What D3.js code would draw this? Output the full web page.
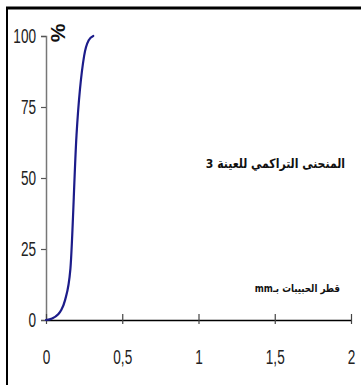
<!DOCTYPE html>
<html>
<head>
<meta charset="utf-8">
<script src="https://cdn.jsdelivr.net/npm/d3@7"></script>
<style>
  html, body { margin: 0; padding: 0; background: #fff; }
  svg { display: block; }
  .tick text { font-family: "Liberation Sans", Arial, sans-serif; font-size: 20px; fill: #222; }
</style>
</head>
<body>
<svg id="chart" width="361" height="385"></svg>
<script>
// Cumulative grading curve of sample 3: grain diameter (mm) vs. cumulative passing (%)
const diameters = [0, 0.04, 0.08, 0.1, 0.125, 0.16, 0.2, 0.25, 0.28, 0.31];
const passing   = [0, 0.5, 2, 3.5, 7, 18, 65, 93, 98.5, 100];

const xTicks = [0, 0.5, 1, 1.5, 2];
const xTickLabels = ["0", "0,5", "1", "1,5", "2"];
const yTicks = [0, 25, 50, 75, 100];
const yTickLabels = ["0", "25", "50", "75", "100"];

const chartTitle = "المنحنى التراكمي للعينة 3";
const xTitle = "قطر الحبيبات بـmm";
const yTitle = "%";

const svg = d3.select("#chart");

// outer frame (top and left edges)
svg.append("line").attr("x1", 6).attr("x2", 361).attr("y1", 8).attr("y2", 8)
  .attr("stroke", "#000").attr("stroke-width", 3);
svg.append("line").attr("x1", 7).attr("x2", 7).attr("y1", 7).attr("y2", 385)
  .attr("stroke", "#000").attr("stroke-width", 2);

const x = d3.scaleLinear().domain([0, 2]).range([46, 351]);
const y = d3.scaleLinear().domain([0, 100]).range([320, 36]);

// condensed look for tick labels
const narrow = 0.68;

// y axis
const yAxis = svg.append("g").attr("transform", `translate(${x(0)},0)`)
  .call(d3.axisLeft(y).tickValues(yTicks).tickSize(5).tickPadding(5)
    .tickFormat((d, i) => yTickLabels[i]));
yAxis.select(".domain").attr("stroke", "#777").attr("stroke-width", 1.5);
yAxis.selectAll(".tick line").attr("stroke", "#555").attr("stroke-width", 1.2);
yAxis.selectAll(".tick text").attr("transform", `scale(${narrow},1)`)
  .attr("x", -10 / narrow);

// x axis
const xAxis = svg.append("g").attr("transform", `translate(0,${y(0)})`)
  .call(d3.axisBottom(x).tickValues(xTicks).tickSizeInner(4).tickSizeOuter(0).tickPadding(26)
    .tickFormat((d, i) => xTickLabels[i]));
xAxis.select(".domain").attr("stroke", "#000").attr("stroke-width", 1.6);
xAxis.selectAll(".tick line").attr("y1", -6).attr("stroke", "#444").attr("stroke-width", 1.2);
xAxis.selectAll(".tick text").attr("transform", `scale(${narrow},1)`);

// curve
const pts = diameters.map((d, i) => [d, passing[i]]);
const line = d3.line().x(d => x(d[0])).y(d => y(d[1])).curve(d3.curveMonotoneX);
svg.append("path").datum(pts).attr("d", line)
  .attr("fill", "none").attr("stroke", "#1c1c8a").attr("stroke-width", 2.2)
  .attr("stroke-linejoin", "round").attr("stroke-linecap", "round");

// y title
svg.append("text")
  .attr("transform", `translate(${x(0) + 11},${y(100) - 3}) rotate(-90)`)
  .attr("text-anchor", "middle").attr("dominant-baseline", "central")
  .style("font-family", "'Liberation Sans', Arial, sans-serif")
  .style("font-weight", "bold").style("font-size", "21px").attr("fill", "#111")
  .text(yTitle);

// chart title and x title (right-to-left text)
svg.append("text")
  .attr("x", 345).attr("y", 168)
  .attr("direction", "rtl").attr("text-anchor", "start")
  .attr("transform", "translate(345,0) scale(0.93,1) translate(-345,0)")
  .style("font-family", "'DejaVu Sans Condensed', 'DejaVu Sans', sans-serif")
  .style("font-size", "13px").style("font-weight", "bold").attr("fill", "#111")
  .text(chartTitle);

svg.append("text")
  .attr("x", 340).attr("y", 292)
  .attr("direction", "rtl").attr("text-anchor", "start")
  .attr("transform", "translate(340,0) scale(0.88,1) translate(-340,0)")
  .style("font-family", "'DejaVu Sans Condensed', 'DejaVu Sans', sans-serif")
  .style("font-size", "11px").style("font-weight", "bold").attr("fill", "#111")
  .text(xTitle);
</script>
</body>
</html>
